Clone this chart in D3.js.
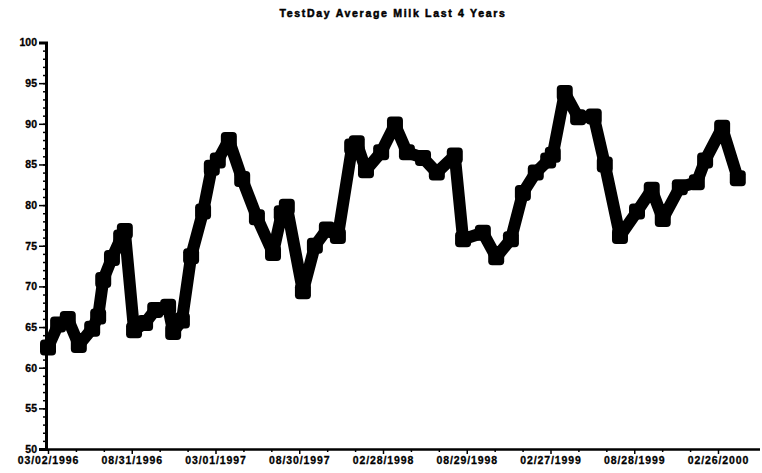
<!DOCTYPE html>
<html>
<head>
<meta charset="utf-8">
<script src="https://cdn.jsdelivr.net/npm/d3@7"></script>
<style>
  html, body { margin: 0; padding: 0; background: #fff; }
  svg { display: block; }
  text { font-family: "Liberation Sans", Arial, sans-serif; font-weight: bold; fill: #000; }
</style>
</head>
<body>
<svg id="chart" width="762" height="473"></svg>
<script>
const title = "TestDay Average Milk Last 4 Years";

const testDates = [
  "1996-03-02","1996-03-24","1996-04-14","1996-05-08","1996-06-06","1996-06-19","1996-06-30","1996-07-19",
  "1996-08-08","1996-08-16","1996-09-05","1996-09-29","1996-10-21","1996-11-18","1996-11-29","1996-12-18",
  "1997-01-07","1997-02-02","1997-02-21","1997-03-06","1997-03-30","1997-04-28","1997-05-30","1997-07-04",
  "1997-07-23","1997-08-03","1997-09-07","1997-10-03","1997-10-29","1997-11-22","1997-12-23","1998-01-02",
  "1998-01-22","1998-02-24","1998-03-26","1998-04-21","1998-05-26","1998-06-25","1998-08-03","1998-08-21",
  "1998-10-03","1998-11-01","1998-12-03","1998-12-29","1999-01-26","1999-02-22","1999-03-04","1999-03-30",
  "1999-04-28","1999-06-01","1999-06-25","1999-07-28","1999-09-03","1999-10-05","1999-10-29","1999-12-05",
  "2000-01-11","2000-01-29","2000-03-06","2000-04-09"
];

const avgMilk = [
  62.5, 65.3, 66.0, 62.8, 64.8, 66.3, 70.8, 73.5,
  76.0, 76.8, 64.6, 65.5, 67.1, 67.5, 64.4, 65.8,
  73.7, 79.2, 84.6, 85.5, 88.0, 83.2, 78.5, 74.1,
  79.0, 79.8, 69.4, 75.0, 77.0, 76.2, 87.2, 87.6,
  84.3, 86.5, 89.9, 86.5, 85.8, 84.0, 86.1, 75.8,
  76.6, 73.6, 75.8, 81.5, 84.0, 85.5, 86.2, 93.8,
  90.8, 90.9, 85.0, 76.2, 79.2, 81.9, 78.3, 82.2,
  82.8, 85.5, 89.5, 83.3
];

const xTickLabels = ["03/02/1996","08/31/1996","03/01/1997","08/30/1997","02/28/1998",
                     "08/29/1998","02/27/1999","08/28/1999","02/26/2000"];
const yTicks = [50, 55, 60, 65, 70, 75, 80, 85, 90, 95, 100];

const parseISO = d3.timeParse("%Y-%m-%d");
const parseTick = d3.timeParse("%m/%d/%Y");
const fmtTick = d3.timeFormat("%m/%d/%Y");

const data = testDates.map((d, i) => ({ date: parseISO(d), value: avgMilk[i] }));
const tickDates = xTickLabels.map(parseTick);

const svg = d3.select("#chart");

const x = d3.scaleTime()
  .domain([tickDates[0], tickDates[tickDates.length - 1]])
  .range([48, 718]);
const y = d3.scaleLinear().domain([50, 100]).range([449, 42.5]);

// Title
svg.append("text")
  .attr("x", 393).attr("y", 17)
  .attr("text-anchor", "middle")
  .style("font-size", "10.5px")
  .style("letter-spacing", "1.7px")
  .attr("stroke", "#000").attr("stroke-width", 0.5)
  .text(title);

// Y axis: minor ticks
svg.append("g")
  .attr("transform", "translate(46,0)")
  .call(d3.axisLeft(y).tickValues(d3.range(50, 101, 1)).tickSize(3).tickFormat(""))
  .call(g => g.select(".domain").remove())
  .call(g => g.selectAll("line").attr("stroke", "#000").attr("stroke-width", 1.5));

// Y axis: major ticks with labels
const yAxisG = svg.append("g")
  .attr("transform", "translate(46,0)")
  .call(d3.axisLeft(y).tickValues(yTicks).tickSize(7).tickPadding(2).tickFormat(d3.format("d")));
yAxisG.select(".domain").attr("stroke", "#000").attr("stroke-width", 3);
yAxisG.selectAll("line").attr("stroke", "#000").attr("stroke-width", 1.5);
yAxisG.selectAll("text")
  .style("font-size", "10.5px")
  .style("font-family", "'Liberation Sans', Arial, sans-serif")
  .style("font-weight", "bold")
  .attr("stroke", "#000").attr("stroke-width", 0.3);

// X axis: minor ticks
const minorDates = [];
for (let i = 0; i < tickDates.length - 1; i++) {
  const a = +tickDates[i], b = +tickDates[i + 1];
  for (let k = 1; k < 3; k++) minorDates.push(new Date(a + (b - a) * k / 3));
}
svg.append("g")
  .attr("transform", "translate(0,449)")
  .call(d3.axisBottom(x).tickValues(minorDates).tickSize(3).tickFormat(""))
  .call(g => g.select(".domain").remove())
  .call(g => g.selectAll("line").attr("stroke", "#000").attr("stroke-width", 1.5));

// X axis: major
const xAxisG = svg.append("g")
  .attr("transform", "translate(0,449)")
  .call(d3.axisBottom(x).tickValues(tickDates).tickSize(5).tickPadding(3).tickFormat(fmtTick)
        .tickSizeOuter(0));
xAxisG.select(".domain").attr("stroke", "#000").attr("stroke-width", 2.5)
  .attr("d", "M44,0.5H760");
xAxisG.selectAll("line").attr("stroke", "#000").attr("stroke-width", 1.5);
xAxisG.selectAll("text")
  .style("font-size", "10.5px")
  .style("letter-spacing", "0.9px")
  .style("font-family", "'Liberation Sans', Arial, sans-serif")
  .style("font-weight", "bold")
  .attr("stroke", "#000").attr("stroke-width", 0.3);

// Line
const line = d3.line().x(d => x(d.date)).y(d => y(d.value));
svg.append("path")
  .datum(data)
  .attr("d", line)
  .attr("fill", "none")
  .attr("stroke", "#000")
  .attr("stroke-width", 12)
  .attr("stroke-linejoin", "round")
  .attr("stroke-linecap", "butt");

// Markers
const ms = 16;
svg.append("g").selectAll("rect")
  .data(data)
  .join("rect")
  .attr("x", d => x(d.date) - ms / 2)
  .attr("y", d => y(d.value) - ms / 2)
  .attr("width", ms).attr("height", ms)
  .attr("rx", 4).attr("ry", 4)
  .attr("fill", "#000");
</script>
</body>
</html>
